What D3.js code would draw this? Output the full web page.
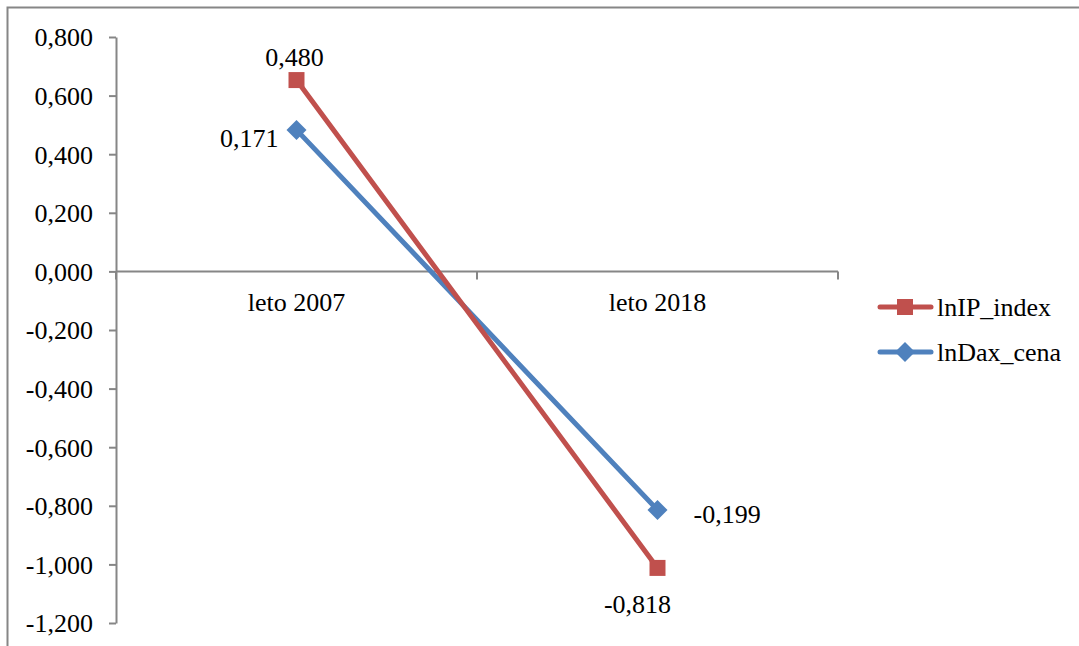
<!DOCTYPE html>
<html>
<head>
<meta charset="utf-8">
<script src="https://cdn.jsdelivr.net/npm/d3@7"></script>
</head>
<body style="margin:0;background:#fff">
<svg id="chart" width="1079" height="646" font-family="Liberation Serif"></svg>
<script>
// data
var categories = ["leto 2007", "leto 2018"];
var seriesNames = ["lnIP_index", "lnDax_cena"];
var ipValues = [0.653, -1.012];
var daxValues = [0.483, -0.814];
var ipLabels = ["0,480", "-0,818"];
var daxLabels = ["0,171", "-0,199"];
var yTicks = [0.8, 0.6, 0.4, 0.2, 0, -0.2, -0.4, -0.6, -0.8, -1.0, -1.2];

var svg = d3.select("#chart");
var red = "#C0504D", blue = "#4F81BD", axisCol = "#868686";
var serif = "'Liberation Serif', 'Times New Roman', serif";

function txt(sel) {
  return sel.attr("font-family", "Liberation Serif")
    .style("font-family", serif)
    .style("font-size", "26px")
    .attr("fill", "#000");
}

// outer frame (runs off the right/bottom of the picture)
svg.append("rect")
  .attr("x", 7.5).attr("y", 7.5)
  .attr("width", 1100).attr("height", 700)
  .attr("fill", "none").attr("stroke", axisCol).attr("stroke-width", 2);

var margin = {left: 116, top: 37, right: 838, bottom: 623};

var x = d3.scaleBand()
  .domain(categories)
  .range([margin.left, margin.right]);

var y = d3.scaleLinear()
  .domain([-1.2, 0.8])
  .range([margin.bottom, margin.top]);

var fmt = function(d) { return d3.format(".3f")(d).replace(".", ",").replace("−", "-"); };

// y axis
var yAxis = svg.append("g")
  .attr("transform", "translate(" + margin.left + ",0)")
  .call(d3.axisLeft(y).tickValues(yTicks).tickFormat(fmt).tickSize(7).tickSizeOuter(0));
yAxis.attr("font-family", null).attr("font-size", null);
yAxis.select(".domain").attr("stroke", axisCol).attr("stroke-width", 2);
yAxis.selectAll(".tick line").attr("stroke", axisCol).attr("stroke-width", 2);
txt(yAxis.selectAll(".tick text"))
  .attr("x", -23)
  .attr("dy", "0.34em");

// x axis at zero
var xg = svg.append("g").attr("transform", "translate(0," + y(0) + ")");
xg.append("line")
  .attr("x1", margin.left).attr("x2", margin.right)
  .attr("stroke", axisCol).attr("stroke-width", 2);
var bounds = [margin.left].concat(categories.map(function(c) { return x(c) + x.bandwidth(); }));
xg.selectAll(".xtick").data(bounds).enter().append("line")
  .attr("x1", function(d) { return d; }).attr("x2", function(d) { return d; })
  .attr("y1", 0).attr("y2", 8)
  .attr("stroke", axisCol).attr("stroke-width", 2);
txt(xg.selectAll(".xlab").data(categories).enter().append("text"))
  .attr("x", function(d) { return x(d) + x.bandwidth() / 2; })
  .attr("y", 40)
  .attr("text-anchor", "middle")
  .text(function(d) { return d; });

var cx = function(i) { return x(categories[i]) + x.bandwidth() / 2; };

var line = d3.line()
  .x(function(d, i) { return cx(i); })
  .y(function(d) { return y(d); });

function drawSeries(vals, color, marker) {
  svg.append("path")
    .datum(vals)
    .attr("d", line)
    .attr("fill", "none")
    .attr("stroke", color)
    .attr("stroke-width", 5)
    .attr("stroke-linecap", "round");
  svg.selectAll(null).data(vals).enter().append("path")
    .attr("transform", function(d, i) { return "translate(" + cx(i) + "," + y(d) + ")"; })
    .attr("d", marker)
    .attr("fill", color);
}

var square = d3.symbol().type(d3.symbolSquare).size(256)();
var diamond = "M0,-10L10,0L0,10L-10,0Z";

drawSeries(daxValues, blue, diamond);
drawSeries(ipValues, red, square);

// data labels
var lab = svg.append("g");
txt(lab.append("text")).attr("x", cx(0) - 2).attr("y", y(ipValues[0]) - 14)
  .attr("text-anchor", "middle").text(ipLabels[0]);
txt(lab.append("text")).attr("x", cx(1) - 20).attr("y", y(ipValues[1]) + 45)
  .attr("text-anchor", "middle").text(ipLabels[1]);
txt(lab.append("text")).attr("x", cx(0) - 18).attr("y", y(daxValues[0]) + 17)
  .attr("text-anchor", "end").text(daxLabels[0]);
txt(lab.append("text")).attr("x", cx(1) + 36).attr("y", y(daxValues[1]) + 13)
  .attr("text-anchor", "start").text(daxLabels[1]);

// legend
var legend = svg.selectAll(".legend")
  .data([{name: seriesNames[0], color: red, marker: square},
         {name: seriesNames[1], color: blue, marker: diamond}])
  .enter().append("g")
  .attr("class", "legend")
  .attr("transform", function(d, i) { return "translate(878," + (307 + i * 45) + ")"; });
legend.append("line")
  .attr("x1", 2).attr("x2", 53)
  .attr("stroke", function(d) { return d.color; })
  .attr("stroke-width", 5)
  .attr("stroke-linecap", "round");
legend.append("path")
  .attr("transform", "translate(27,0)")
  .attr("d", function(d) { return d.marker; })
  .attr("fill", function(d) { return d.color; });
txt(legend.append("text"))
  .attr("x", 59).attr("y", 9)
  .text(function(d) { return d.name; });
</script>
</body>
</html>
